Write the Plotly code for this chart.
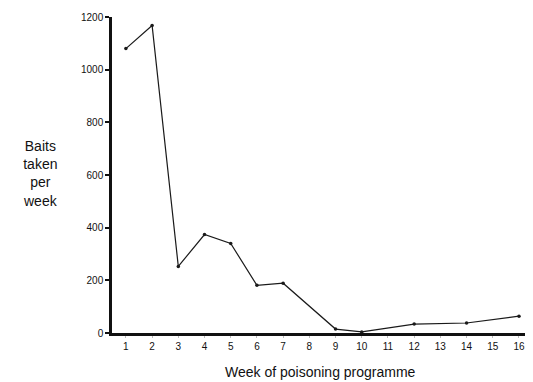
import plotly.graph_objects as go

weeks = [1, 2, 3, 4, 5, 6, 7, 9, 10, 12, 14, 16]
baits = [1080, 1168, 253, 374, 340, 181, 189, 15, 4, 34, 38, 64]
tick_vals = list(range(1, 17))
y_ticks = [0, 200, 400, 600, 800, 1000, 1200]

fig = go.Figure(go.Scatter(
    x=weeks, y=baits, mode="lines+markers",
    line=dict(color="#1a1a1a", width=1.2),
    marker=dict(color="#1a1a1a", size=3.5),
))

font = "Liberation Sans, Arial, sans-serif"
fig.update_layout(
    width=525, height=374,
    margin=dict(l=104, r=3, t=7, b=49),
    paper_bgcolor="white", plot_bgcolor="white",
    showlegend=False,
    font=dict(family=font, color="#111"),
    xaxis=dict(range=[0.47, 16.42], tickvals=tick_vals, showgrid=False, zeroline=False,
               showline=True, linecolor="#111", linewidth=2.5, ticks="outside",
               ticklen=2, tickcolor="#bbb", tickfont=dict(size=10), fixedrange=True),
    yaxis=dict(range=[0, 1200], tickvals=y_ticks, showgrid=False, zeroline=False,
               showline=True, linecolor="#111", linewidth=2.5, ticks="outside",
               ticklen=4, tickwidth=1.5, tickcolor="#111", tickfont=dict(size=10),
               fixedrange=True),
    annotations=[
        dict(text="Baits<br>taken<br>per<br>week", xref="paper", yref="paper",
             x=-0.172, y=0.506, xanchor="center", yanchor="middle",
             showarrow=False, align="center",
             font=dict(size=14, family=font, color="#111")),
        dict(text="Week of poisoning programme", xref="paper", yref="paper",
             x=0.498, y=-0.123, xanchor="center", yanchor="middle", showarrow=False,
             font=dict(size=14, family=font, color="#111")),
    ],
)
fig.write_html("out.html")
